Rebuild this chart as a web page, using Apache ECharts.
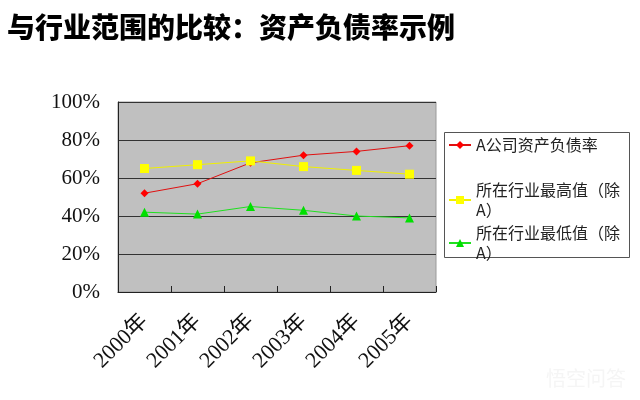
<!DOCTYPE html>
<html>
<head>
<meta charset="utf-8">
<script src="https://cdn.jsdelivr.net/npm/echarts@6/dist/echarts.min.js"></script>
<style>
  html, body { margin: 0; padding: 0; background: #fff; }
  #chart { width: 640px; height: 400px; }
</style>
</head>
<body>
<div id="chart"></div>
<script>
// 年份
const years = ["2000年", "2001年", "2002年", "2003年", "2004年", "2005年"];
// A公司资产负债率 (%)
const companyA = [52, 57, 68, 72, 74, 77];
// 行业最高值 (%)
const industryHigh = [65, 67, 69, 66, 64, 62];
// 行业最低值 (%)
const industryLow = [42, 41, 45, 43, 40, 39];

const seriesNames = ["A公司资产负债率", "所在行业最高值（除A）", "所在行业最低值（除A）"];
const legendTexts = ["A公司资产负债率", "所在行业最高值（除\nA）", "所在行业最低值（除\nA）"];

const serif = 'Liberation Serif, "Times New Roman", "Noto Sans CJK SC", serif';
const cjk = '"Noto Sans CJK SC", sans-serif';

const chart = echarts.init(document.getElementById("chart"));

// 三个图例分开放，方便对齐第一行
function makeLegend(i, top, twoLines) {
  return {
    data: [seriesNames[i]],
    orient: "vertical",
    left: 448,
    top: top,
    padding: 0,
    itemWidth: 22,
    itemHeight: 10,
    itemGap: 0,
    formatter: () => legendTexts[i],
    textStyle: {
      fontFamily: cjk,
      fontSize: 16,
      color: "#222",
      lineHeight: 20,
      padding: twoLines ? [20, 0, 0, 0] : 0,
    },
  };
}

const option = {
  animation: false,
  backgroundColor: "#fff",
  title: {
    text: "与行业范围的比较：资产负债率示例",
    left: 2,
    top: 8,
    textStyle: {
      fontFamily: cjk,
      fontSize: 28,
      fontWeight: 900,
      color: "#000",
    },
  },
  grid: {
    left: 118,
    top: 102,
    right: 204,
    bottom: 108,
    show: true,
    backgroundColor: "#C0C0C0",
    borderColor: "#9a9a9a",
    borderWidth: 1,
  },
  legend: [makeLegend(0, 135, false), makeLegend(1, 170, true), makeLegend(2, 213, true)],
  graphic: [
    {
      type: "rect",
      shape: { x: 444.5, y: 132.5, width: 185, height: 125 },
      style: { fill: "#fff", stroke: "#555", lineWidth: 1 },
      z: -1,
    },
    {
      type: "text",
      right: 14,
      bottom: 12,
      style: { text: "悟空问答", fill: "#f5f5f5", font: '20px "Noto Sans CJK SC"' },
    },
  ],
  xAxis: {
    type: "category",
    data: years,
    boundaryGap: true,
    axisLine: { lineStyle: { color: "#222", width: 1 } },
    axisTick: { show: true, inside: true, length: 6, lineStyle: { color: "#222" } },
    axisLabel: {
      rotate: 45,
      margin: 26,
      fontFamily: serif,
      fontSize: 22,
      color: "#111",
    },
    splitLine: { show: false },
  },
  yAxis: {
    type: "value",
    min: 0,
    max: 100,
    interval: 20,
    axisLine: { show: true, lineStyle: { color: "#222", width: 1 } },
    axisTick: { show: false },
    axisLabel: {
      formatter: "{value}%",
      margin: 18,
      fontFamily: serif,
      fontSize: 21,
      color: "#111",
    },
    splitLine: { show: true, lineStyle: { color: "#333", width: 1 } },
  },
  series: [
    {
      name: seriesNames[0],
      type: "line",
      data: companyA,
      symbol: "diamond",
      symbolSize: 8,
      lineStyle: { color: "#e01010", width: 1 },
      itemStyle: { color: "#ff0000" },
    },
    {
      name: seriesNames[1],
      type: "line",
      data: industryHigh,
      symbol: "rect",
      symbolSize: 9,
      lineStyle: { color: "#f0f000", width: 1 },
      itemStyle: { color: "#ffff00" },
    },
    {
      name: seriesNames[2],
      type: "line",
      data: industryLow,
      symbol: "triangle",
      symbolSize: 9,
      lineStyle: { color: "#20e020", width: 1 },
      itemStyle: { color: "#00e000" },
    },
  ],
};

chart.setOption(option);
</script>
</body>
</html>
